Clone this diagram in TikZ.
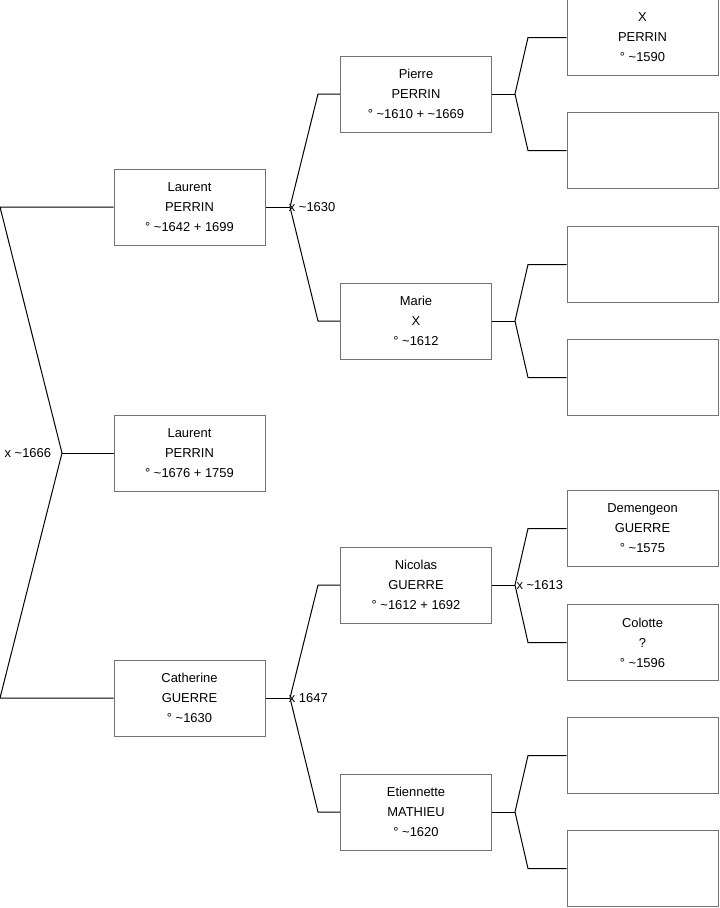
\documentclass[tikz,border=0pt]{standalone}
\usepackage{fontspec}
\setmainfont{Liberation Sans}
\begin{document}
\begin{tikzpicture}[x=0.75pt,y=-0.75pt,
  person/.style={draw=black!55, line width=0.75pt, fill=white, minimum width=151*0.75pt, minimum height=76*0.75pt, inner sep=0pt, align=center, font=\fontsize{9.7pt}{15pt}\selectfont},
  link/.style={draw=black, line width=0.75pt},
  mar/.style={font=\fontsize{9.7pt}{11pt}\selectfont, inner sep=1pt}]
\useasboundingbox (0,0) rectangle (719,908);
% generation 0-1
\node[person] (father) at (189.5,207) {Laurent\\PERRIN\\° \textasciitilde1642 + 1699};
\node[person] (root) at (189.5,453) {Laurent\\PERRIN\\° \textasciitilde1676 + 1759};
\node[person] (cath) at (189.5,698) {Catherine\\GUERRE\\° \textasciitilde1630};
% generation 2
\node[person] (pierre) at (416,94) {Pierre\\PERRIN\\° \textasciitilde1610 + \textasciitilde1669};
\node[person] (marie) at (416,321) {Marie\\X\\° \textasciitilde1612};
\node[person] (nicolas) at (416,585) {Nicolas\\GUERRE\\° \textasciitilde1612 + 1692};
\node[person] (etien) at (416,812) {Etiennette\\MATHIEU\\° \textasciitilde1620};
% generation 3
\node[person] (g1) at (642.5,37.5) {X\\PERRIN\\° \textasciitilde1590};
\node[person] (g2) at (642.5,150.5) {};
\node[person] (g3) at (642.5,264.5) {};
\node[person] (g4) at (642.5,377.5) {};
\node[person] (g5) at (642.5,528.5) {Demengeon\\GUERRE\\° \textasciitilde1575};
\node[person] (g6) at (642.5,642.5) {Colotte\\?\\° \textasciitilde1596};
\node[person] (g7) at (642.5,755.5) {};
\node[person] (g8) at (642.5,868.5) {};
% junctions
\coordinate (j0) at (62,453);
\coordinate (t0a) at (0,207);
\coordinate (t0b) at (0,698);
\draw[link] (root.west) -- (j0);
\draw[link] (father.west) -- (t0a) -- (j0) -- (t0b) -- (cath.west);
\node[mar, anchor=east, xshift=-7pt] at (j0) {x \textasciitilde1666};

\coordinate (j1) at (290,207);
\coordinate (a1) at (318,94);
\coordinate (b1) at (318,321);
\draw[link] (father.east) -- (j1);
\draw[link] (pierre.west) -- (a1) -- (j1) -- (b1) -- (marie.west);
\node[mar, anchor=west, xshift=-2pt] at (j1) {x \textasciitilde1630};

\coordinate (j2) at (290,698);
\coordinate (a2) at (318,585);
\coordinate (b2) at (318,812);
\draw[link] (cath.east) -- (j2);
\draw[link] (nicolas.west) -- (a2) -- (j2) -- (b2) -- (etien.west);
\node[mar, anchor=west, xshift=-2pt] at (j2) {x 1647};

\coordinate (j3) at (515,94);
\coordinate (a3) at (528,37.5);
\coordinate (b3) at (528,150.5);
\draw[link] (pierre.east) -- (j3);
\draw[link] (g1.west) -- (a3) -- (j3) -- (b3) -- (g2.west);

\coordinate (j4) at (515,321);
\coordinate (a4) at (528,264.5);
\coordinate (b4) at (528,377.5);
\draw[link] (marie.east) -- (j4);
\draw[link] (g3.west) -- (a4) -- (j4) -- (b4) -- (g4.west);

\coordinate (j5) at (515,585);
\coordinate (a5) at (528,528.5);
\coordinate (b5) at (528,642.5);
\draw[link] (nicolas.east) -- (j5);
\draw[link] (g5.west) -- (a5) -- (j5) -- (b5) -- (g6.west);
\node[mar, anchor=west] at (j5) {x \textasciitilde1613};

\coordinate (j6) at (515,812);
\coordinate (a6) at (528,755.5);
\coordinate (b6) at (528,868.5);
\draw[link] (etien.east) -- (j6);
\draw[link] (g7.west) -- (a6) -- (j6) -- (b6) -- (g8.west);
\end{tikzpicture}
\end{document}
